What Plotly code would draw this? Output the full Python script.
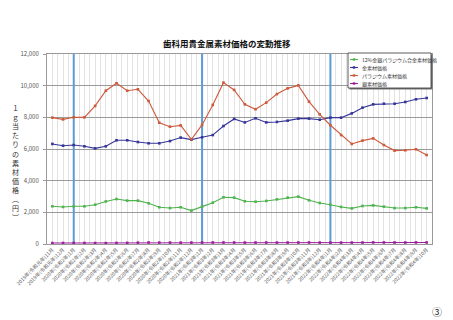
import plotly.graph_objects as go

# 月次の素材価格（円/g）
months = [
    "2019年(令和元年)11月", "2019年(令和元年)12月",
    "2020年(令和2年)1月", "2020年(令和2年)2月", "2020年(令和2年)3月", "2020年(令和2年)4月",
    "2020年(令和2年)5月", "2020年(令和2年)6月", "2020年(令和2年)7月", "2020年(令和2年)8月",
    "2020年(令和2年)9月", "2020年(令和2年)10月", "2020年(令和2年)11月", "2020年(令和2年)12月",
    "2021年(令和3年)1月", "2021年(令和3年)2月", "2021年(令和3年)3月", "2021年(令和3年)4月",
    "2021年(令和3年)5月", "2021年(令和3年)6月", "2021年(令和3年)7月", "2021年(令和3年)8月",
    "2021年(令和3年)9月", "2021年(令和3年)10月", "2021年(令和3年)11月", "2021年(令和3年)12月",
    "2022年(令和4年)1月", "2022年(令和4年)2月", "2022年(令和4年)3月", "2022年(令和4年)4月",
    "2022年(令和4年)5月", "2022年(令和4年)6月", "2022年(令和4年)7月", "2022年(令和4年)8月",
    "2022年(令和4年)9月", "2022年(令和4年)10月",
]
month_no = [11, 12, 1, 2, 3, 4, 5, 6, 7, 8, 9, 10,
            11, 12, 1, 2, 3, 4, 5, 6, 7, 8, 9, 10,
            11, 12, 1, 2, 3, 4, 5, 6, 7, 8, 9, 10]

alloy12 = [2380, 2340, 2380, 2380, 2480, 2690, 2840, 2740, 2740, 2570, 2320, 2270,
           2320, 2110, 2360, 2610, 2950, 2930, 2700, 2670, 2720, 2820, 2930, 2990,
           2760, 2590, 2480, 2340, 2250, 2400, 2440, 2360, 2270, 2270, 2320, 2250]
gold = [6320, 6210, 6250, 6170, 6040, 6170, 6550, 6550, 6440, 6360, 6360, 6500,
        6720, 6590, 6740, 6880, 7450, 7900, 7680, 7940, 7680, 7710, 7790, 7920,
        7920, 7850, 7980, 7980, 8250, 8610, 8820, 8860, 8860, 8970, 9140, 9220]
palladium = [7980, 7870, 8000, 8000, 8720, 9680, 10150, 9680, 9770, 9030, 7660, 7410,
             7490, 6610, 7520, 8780, 10190, 9730, 8820, 8510, 8930, 9470, 9830, 10020,
             8990, 8190, 7500, 6880, 6320, 6530, 6670, 6250, 5900, 5920, 5980, 5620]
silver = [60, 62, 62, 63, 58, 55, 65, 70, 85, 95, 90, 88,
          85, 90, 92, 95, 96, 95, 90, 92, 94, 90, 92, 95,
          96, 90, 86, 85, 88, 92, 100, 98, 95, 94, 100, 98]

series_names = ["12%金銀パラジウム合金素材価格", "金素材価格", "パラジウム素材価格", "銀素材価格"]
series_values = [alloy12, gold, palladium, silver]
series_colors = ["#4fb34f", "#35359a", "#cc5a3c", "#9a1f9a"]

y_ticks = [0, 2000, 4000, 6000, 8000, 10000, 12000]
y_tick_text = ["0", "2,000", "4,000", "6,000", "8,000", "10,000", "12,000"]

FONT = "Noto Sans CJK JP"
W, H = 453, 320
L, R, T, B = 47, 432, 54, 244  # plot area in pixels


def px(x):
    return (x - L) / (R - L)


def py(y):
    return (B - y) / (B - T)


xs = list(range(len(months)))
jan_idx = [i for i, m in enumerate(month_no) if m == 1]
fig = go.Figure()

# January separators as vertical line traces under the data
for i in jan_idx:
    fig.add_trace(go.Scatter(
        x=[xs[i], xs[i]], y=[0, 12000], mode="lines",
        line=dict(color="#5b9bd5", width=2), hoverinfo="skip", showlegend=False,
    ))

for name, vals, col in zip(series_names, series_values, series_colors):
    fig.add_trace(go.Scatter(
        x=xs, y=vals, name=name, mode="lines+markers",
        line=dict(color=col, width=1.1),
        marker=dict(symbol="square", size=2.6, color=col),
        showlegend=False,
    ))

shapes = []
# legend box
lx0, lx1, ly0, ly1 = 348, 431, 53, 88
shapes.append(dict(type="rect", xref="paper", yref="paper",
                   x0=px(lx0 + 1.5), x1=px(lx1 + 1.5), y0=py(ly0 + 1.5), y1=py(ly1 + 1.5),
                   fillcolor="#777", line=dict(width=0)))
shapes.append(dict(type="rect", xref="paper", yref="paper",
                   x0=px(lx0), x1=px(lx1), y0=py(ly0), y1=py(ly1),
                   fillcolor="white", line=dict(color="#333", width=0.8)))
annotations = []
row_y = [59.5, 67.5, 75.5, 83.5]
for name, col, ry in zip(series_names, series_colors, row_y):
    shapes.append(dict(type="line", xref="paper", yref="paper",
                       x0=px(350), x1=px(358), y0=py(ry), y1=py(ry),
                       line=dict(color=col, width=1.1)))
    shapes.append(dict(type="rect", xref="paper", yref="paper",
                       x0=px(352.8), x1=px(355.2), y0=py(ry - 1.2), y1=py(ry + 1.2),
                       fillcolor=col, line=dict(width=0)))
    annotations.append(dict(text=name, xref="paper", yref="paper", x=px(359.5), y=py(ry),
                            xanchor="left", yanchor="middle", showarrow=False,
                            font=dict(family=FONT, size=5, color="#333")))

# title
annotations.append(dict(text="<b>歯科用貴金属素材価格の変動推移</b>", xref="paper", yref="paper",
                        x=px(227), y=py(43), xanchor="center", yanchor="middle", showarrow=False,
                        font=dict(family=FONT, size=8.5, color="#111")))
# vertical y-axis title
ytitle = "１ｇ当たりの素材価格︵円︶"
annotations.append(dict(text="<br>".join(ytitle), xref="paper", yref="paper",
                        x=px(15), y=py(162), xanchor="center", yanchor="middle", showarrow=False,
                        font=dict(family=FONT, size=7, color="#333")))
# page number
annotations.append(dict(text="③", xref="paper", yref="paper",
                        x=px(437), y=py(311), xanchor="center", yanchor="middle", showarrow=False,
                        font=dict(family=FONT, size=10, color="#222")))

fig.update_layout(
    width=W, height=H,
    margin=dict(l=L, r=W - R, t=T, b=H - B, pad=0),
    paper_bgcolor="white", plot_bgcolor="white",
    font=dict(family=FONT, color="#444"),
    shapes=shapes, annotations=annotations,
    showlegend=False,
)
fig.update_xaxes(
    range=[-0.5, len(months) - 0.5],
    tickmode="array", tickvals=xs, ticktext=months, tickangle=-45,
    tickfont=dict(family=FONT, size=5, color="#555"),
    showgrid=True, gridcolor="#e2e2e2", gridwidth=0.6,
    minor=dict(tickmode="linear", tick0=0.5, dtick=1, showgrid=True, gridcolor="#e2e2e2", gridwidth=0.6),
    showline=True, linecolor="#999", linewidth=1, mirror=True,
    ticks="", zeroline=False, fixedrange=True,
)
fig.update_yaxes(
    range=[0, 12000], tickmode="array", tickvals=y_ticks, ticktext=y_tick_text,
    tickfont=dict(family=FONT, size=6, color="#555"),
    showgrid=True, gridcolor="#9a9a9a", gridwidth=1,
    showline=True, linecolor="#999", linewidth=1, mirror=True,
    ticks="outside", ticklen=3, tickcolor="#999", ticklabelstandoff=3,
    zeroline=False, fixedrange=True,
)

fig.write_html("out.html")
